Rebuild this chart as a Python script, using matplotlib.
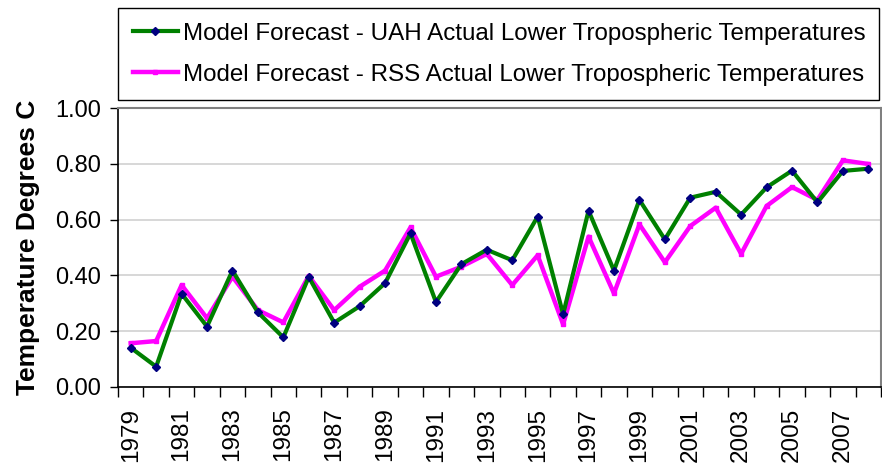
import numpy as np
import matplotlib
matplotlib.use("Agg")
import matplotlib.pyplot as plt

years = list(range(1979, 2009))
uah = [0.140, 0.072, 0.334, 0.216, 0.417, 0.267, 0.177, 0.394, 0.230, 0.289,
       0.372, 0.551, 0.304, 0.440, 0.492, 0.454, 0.611, 0.260, 0.632, 0.417,
       0.671, 0.529, 0.679, 0.700, 0.618, 0.716, 0.776, 0.662, 0.775, 0.783]
rss = [0.156, 0.164, 0.365, 0.246, 0.395, 0.275, 0.231, 0.398, 0.275, 0.359,
       0.417, 0.572, 0.395, 0.431, 0.477, 0.365, 0.472, 0.224, 0.539, 0.335,
       0.583, 0.447, 0.577, 0.643, 0.477, 0.649, 0.717, 0.671, 0.813, 0.800]
uah_label = "Model Forecast - UAH Actual Lower Tropospheric Temperatures"
rss_label = "Model Forecast - RSS Actual Lower Tropospheric Temperatures"

plt.rcParams['font.family'] = ['Liberation Sans', 'DejaVu Sans']

fig = plt.figure(figsize=(8.82, 4.66), dpi=100)
ax = fig.add_axes([0.1338, 0.1702, 0.8651, 0.5974])

x = np.arange(len(years))
ax.plot(x, uah, color='#008000', lw=3.0, marker='D', ms=4,
        mfc='#000080', mec='#000080', label=uah_label, zorder=3)
ax.plot(x, rss, color='#ff00ff', lw=3.2, marker='s', ms=3,
        mfc='#ff00ff', mec='#ff00ff', label=rss_label, zorder=2)

ax.set_xlim(-0.5, len(years) - 0.5)
ax.set_ylim(0, 1.0)
ax.set_yticks(np.arange(0, 1.01, 0.2))
ax.set_yticklabels([f"{v:.2f}" for v in np.arange(0, 1.01, 0.2)], fontsize=17)
ax.yaxis.grid(True, color='#d4d4d4', lw=1.3)
ax.set_axisbelow(True)

# category boundaries get tick marks, labels sit at every other category
ax.set_xticks(np.arange(-0.5, len(years), 1.0))
ax.set_xticklabels([])
ax.set_xticks(x[::2], minor=True)
ax.set_xticklabels([str(y) for y in years[::2]], minor=True, rotation=90,
                   fontsize=17.5)
ax.tick_params(axis='x', which='major', length=7, width=1, direction='out')
ax.tick_params(axis='x', which='minor', length=0, pad=15)
ax.tick_params(axis='y', length=6, width=1, pad=6)

ax.set_ylabel("Temperature Degrees C", fontsize=19, fontweight='bold',
              labelpad=11)

for s in ['top', 'right']:
    ax.spines[s].set_color('#808080')
    ax.spines[s].set_linewidth(1.5)
for s in ['left', 'bottom']:
    ax.spines[s].set_color('black')
    ax.spines[s].set_linewidth(1.2)

leg = fig.legend(loc='lower left', bbox_to_anchor=(0.1338, 0.7854, 0.863, 0.195),
                 mode='expand', fontsize=17.4, handlelength=1.9,
                 handletextpad=0.2, labelspacing=0.78, borderpad=0.6,
                 fancybox=False, framealpha=1, borderaxespad=0)
leg.get_frame().set_edgecolor('black')
leg.get_frame().set_linewidth(1.0)

fig.savefig("out.png", dpi=100)
